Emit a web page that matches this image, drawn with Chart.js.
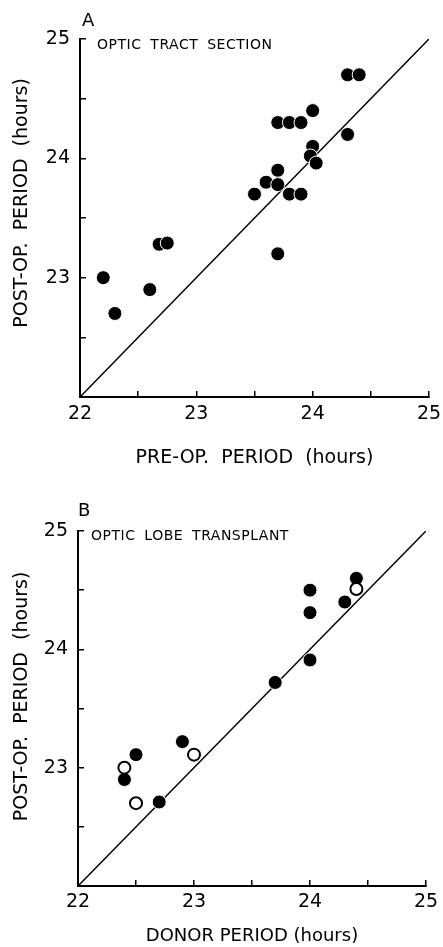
<!DOCTYPE html>
<html>
<head>
<meta charset="utf-8">
<script src="https://cdn.jsdelivr.net/npm/chart.js@4.4.1/dist/chart.umd.min.js"></script>
<style>
  body { margin: 0; background: #fff; width: 443px; height: 947px; position: relative; overflow: hidden; font-family: "DejaVu Sans", sans-serif; color: #000; }
  .panel { position: absolute; left: 0; width: 443px; }
  #wrapA { top: 0; height: 470px; }
  #wrapB { top: 470px; height: 477px; }
  .letter { position: absolute; font-size: 18px; line-height: 1; }
  .note { position: absolute; font-size: 14px; line-height: 1; letter-spacing: 0.5px; word-spacing: 4px; white-space: nowrap; }
</style>
</head>
<body>
<div class="panel" id="wrapA"><canvas id="chartA" width="443" height="470"></canvas></div>
<div class="panel" id="wrapB"><canvas id="chartB" width="443" height="477"></canvas></div>
<div class="letter" style="left:82px;top:11px">A</div>
<div class="note" style="left:97px;top:37px">OPTIC TRACT SECTION</div>
<div class="letter" style="left:78px;top:501px">B</div>
<div class="note" style="left:91px;top:528px">OPTIC LOBE TRANSPLANT</div>
<script>
// panel A: optic tract section
const preOpPeriod  = [22.2, 22.3, 22.6, 22.68, 22.75, 23.5, 23.6, 23.7, 23.7, 23.7, 23.8, 23.9, 23.8, 23.9, 23.7, 24.0, 24.0, 23.98, 24.03, 24.3, 24.4, 24.3];
const postOpA      = [23.0, 22.7, 22.9, 23.28, 23.29, 23.7, 23.8, 23.9, 23.78, 24.3, 24.3, 24.3, 23.7, 23.7, 23.2, 24.4, 24.1, 24.02, 23.96, 24.7, 24.7, 24.2];
// panel B: optic lobe transplant (filled and open symbols)
const donorFilled  = [22.4, 22.5, 22.7, 22.9, 23.7, 24.0, 24.0, 24.0, 24.3, 24.4];
const postOpFilled = [22.9, 23.11, 22.71, 23.22, 23.72, 24.5, 24.31, 23.91, 24.4, 24.6];
const donorOpen    = [22.4, 22.5, 23.0, 24.4];
const postOpOpen   = [23.0, 22.7, 23.11, 24.51];
// identity line and axis range
const identity = [22, 25];
const axisMin = 22, axisMax = 25;

const pts = (xs, ys) => xs.map((x, i) => ({ x: x, y: ys[i] }));
const FONT = 'DejaVu Sans';

function scales(geo) {
  return {
    x: {
      type: 'linear', position: 'bottom', min: axisMin, max: axisMax,
      ticks: { stepSize: 0.5, autoSkip: false, maxRotation: 0, padding: geo.xPad, color: '#000',
        font: { family: FONT, size: 19 },
        callback: v => Number.isInteger(v) ? String(v) : '' },
      grid: { drawOnChartArea: false, tickLength: -6, color: '#000', lineWidth: 1.5 },
      border: { color: '#000', width: 2 },
      title: { display: true, text: geo.xTitle, color: '#000', font: { family: FONT, size: geo.xTitleSize }, padding: { top: 0, bottom: geo.xTitlePad } },
      // keep the plot box where the layout padding puts it
      afterFit: s => { s.height = geo.xH; s.paddingLeft = 0; s.paddingRight = 0; }
    },
    y: {
      type: 'linear', position: 'left', min: axisMin, max: axisMax,
      ticks: { stepSize: 0.5, autoSkip: false, padding: 16, color: '#000',
        font: { family: FONT, size: 19 },
        callback: v => (Number.isInteger(v) && v > axisMin) ? String(v) : '' },
      grid: { drawOnChartArea: false, tickLength: -6, color: '#000', lineWidth: 1.5 },
      border: { color: '#000', width: 2 },
      title: { display: true, text: geo.yTitle, color: '#000', font: { family: FONT, size: 19 }, padding: { top: 11, bottom: 0 } },
      afterFit: s => { s.width = geo.yW; s.paddingTop = 0; s.paddingBottom = 0; }
    }
  };
}

function lineSet() {
  return { data: pts(identity, identity), showLine: true, borderColor: '#000', borderWidth: 1.5, pointRadius: 0, order: 3 };
}

function baseOptions(geo) {
  return {
    responsive: false, animation: false, events: [],
    layout: { padding: geo.pad },
    plugins: { legend: { display: false }, tooltip: { enabled: false } },
    scales: scales(geo)
  };
}

new Chart(document.getElementById('chartA'), {
  type: 'scatter',
  data: {
    datasets: [
      { data: pts(preOpPeriod, postOpA), pointRadius: 7, pointBackgroundColor: '#000', pointBorderColor: '#fff', pointBorderWidth: 1, order: 1 },
      lineSet()
    ]
  },
  options: baseOptions({
    xTitle: 'PRE-OP.  PERIOD  (hours)', xTitleSize: 19, yTitle: '     POST-OP.  PERIOD  (hours)',
    pad: { left: 0, right: 14, top: 39, bottom: 0 }, xH: 73, yW: 80, xPad: 12, xTitlePad: 1 })
});

new Chart(document.getElementById('chartB'), {
  type: 'scatter',
  data: {
    datasets: [
      { data: pts(donorOpen, postOpOpen), pointRadius: 6, pointBackgroundColor: '#fff', pointBorderColor: '#000', pointBorderWidth: 2, order: 0 },
      { data: pts(donorFilled, postOpFilled), pointRadius: 7, pointBackgroundColor: '#000', pointBorderColor: '#fff', pointBorderWidth: 1, order: 1 },
      lineSet()
    ]
  },
  options: baseOptions({
    xTitle: 'DONOR PERIOD (hours)', xTitleSize: 18, yTitle: '    POST-OP.  PERIOD  (hours)',
    pad: { left: 0, right: 17, top: 61, bottom: 0 }, xH: 61, yW: 78, xPad: 11, xTitlePad: 0 })
});
</script>
</body>
</html>
